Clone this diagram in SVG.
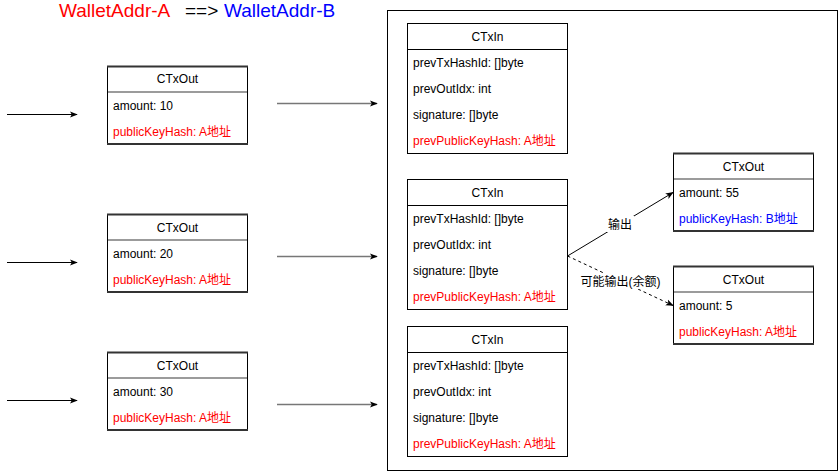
<svg xmlns="http://www.w3.org/2000/svg" width="838" height="471" viewBox="0 0 838 471">
<style>
text{font-family:"Liberation Sans","Noto Sans CJK SC",Arial,sans-serif;font-size:12px;fill:#000}
.h{text-anchor:middle}
.r{fill:#ff0000}
.b{fill:#0000ff}
.out{fill:#fff;stroke:#000;stroke-width:1}
.tb{stroke:#333;stroke-width:2}
.sepo{stroke:#7a7a7a;stroke-width:1.6}
.in{fill:#fff;stroke:#000;stroke-width:1}
.sep{stroke:#000;stroke-width:1}
.c{fill:none;stroke:#000;stroke-width:1}
.g{fill:none;stroke:#777;stroke-width:1.6}
</style>
<defs>
<marker id="a" viewBox="0 0 10 10" refX="9" refY="5" markerWidth="8" markerHeight="8" markerUnits="userSpaceOnUse" orient="auto"><path d="M0,1 L10,5 L0,9 L2.5,5 Z" fill="#000"/></marker>
</defs>
<g id="title">
<text x="59" y="17" style="font-size:19px" class="r">WalletAddr-A</text>
<text x="185" y="17" style="font-size:19px">==&gt;</text>
<text x="224" y="17" style="font-size:19px" class="b">WalletAddr-B</text>
</g>
<g id="container"><rect x="387.5" y="10.5" width="450" height="460" fill="none" stroke="#000"/></g>
<g id="out1"><rect class="out" x="107.5" y="66.5" width="140" height="78"/><line class="tb" x1="107" y1="66.5" x2="248" y2="66.5"/><line class="tb" x1="107" y1="144" x2="248" y2="144"/><line class="sepo" x1="108" y1="92" x2="247" y2="92"/><text class="h" x="177.5" y="83">CTxOut</text><text x="113" y="110">amount: 10</text><text x="113" y="136" class="r">publicKeyHash: A地址</text></g>
<g id="out2"><rect class="out" x="107.5" y="214.5" width="140" height="78"/><line class="tb" x1="107" y1="214.5" x2="248" y2="214.5"/><line class="tb" x1="107" y1="292" x2="248" y2="292"/><line class="sepo" x1="108" y1="240" x2="247" y2="240"/><text class="h" x="177.5" y="232">CTxOut</text><text x="113" y="258">amount: 20</text><text x="113" y="284" class="r">publicKeyHash: A地址</text></g>
<g id="out3"><rect class="out" x="107.5" y="352.5" width="140" height="78"/><line class="tb" x1="107" y1="352.5" x2="248" y2="352.5"/><line class="tb" x1="107" y1="430" x2="248" y2="430"/><line class="sepo" x1="108" y1="378" x2="247" y2="378"/><text class="h" x="177.5" y="370">CTxOut</text><text x="113" y="396">amount: 30</text><text x="113" y="422" class="r">publicKeyHash: A地址</text></g>
<g id="in1"><rect class="in" x="407.5" y="23.5" width="160" height="130"/><line class="sep" x1="407.5" y1="49.5" x2="567.5" y2="49.5"/><text class="h" x="487.5" y="41">CTxIn</text><text x="413" y="67">prevTxHashId: []byte</text><text x="413" y="93">prevOutIdx: int</text><text x="413" y="119">signature: []byte</text><text x="413" y="145" class="r">prevPublicKeyHash: A地址</text></g>
<g id="in2"><rect class="in" x="407.5" y="179.5" width="160" height="130"/><line class="sep" x1="407.5" y1="205.5" x2="567.5" y2="205.5"/><text class="h" x="487.5" y="197">CTxIn</text><text x="413" y="223">prevTxHashId: []byte</text><text x="413" y="249">prevOutIdx: int</text><text x="413" y="275">signature: []byte</text><text x="413" y="301" class="r">prevPublicKeyHash: A地址</text></g>
<g id="in3"><rect class="in" x="407.5" y="326.5" width="160" height="130"/><line class="sep" x1="407.5" y1="352.5" x2="567.5" y2="352.5"/><text class="h" x="487.5" y="344">CTxIn</text><text x="413" y="370">prevTxHashId: []byte</text><text x="413" y="396">prevOutIdx: int</text><text x="413" y="422">signature: []byte</text><text x="413" y="448" class="r">prevPublicKeyHash: A地址</text></g>
<g id="outB"><rect class="out" x="673.5" y="153.5" width="140" height="78"/><line class="tb" x1="673" y1="153.5" x2="814" y2="153.5"/><line class="tb" x1="673" y1="231" x2="814" y2="231"/><line class="sepo" x1="674" y1="179" x2="813" y2="179"/><text class="h" x="743.5" y="171">CTxOut</text><text x="679" y="197">amount: 55</text><text x="679" y="223" class="b">publicKeyHash: B地址</text></g>
<g id="outA"><rect class="out" x="673.5" y="266.5" width="140" height="78"/><line class="tb" x1="673" y1="266.5" x2="814" y2="266.5"/><line class="tb" x1="673" y1="344" x2="814" y2="344"/><line class="sepo" x1="674" y1="292" x2="813" y2="292"/><text class="h" x="743.5" y="284">CTxOut</text><text x="679" y="310">amount: 5</text><text x="679" y="336" class="r">publicKeyHash: A地址</text></g>
<g id="connectors">
<line class="c" x1="7" y1="114.5" x2="77" y2="114.5" marker-end="url(#a)"/>
<line class="c" x1="7" y1="262.5" x2="77" y2="262.5" marker-end="url(#a)"/>
<line class="c" x1="7" y1="400.5" x2="77" y2="400.5" marker-end="url(#a)"/>
<line class="g" x1="277" y1="103.5" x2="377" y2="103.5" marker-end="url(#a)"/>
<line class="g" x1="277" y1="256.5" x2="377" y2="256.5" marker-end="url(#a)"/>
<line class="g" x1="277" y1="404.5" x2="377" y2="404.5" marker-end="url(#a)"/>
<line class="c" x1="567.5" y1="256" x2="673" y2="192.5" marker-end="url(#a)"/>
<line class="c" x1="567.5" y1="256" x2="673" y2="305.5" stroke-dasharray="3 3" marker-end="url(#a)"/>
<rect x="606" y="216" width="28" height="16" fill="#fff"/>
<text class="h" x="620" y="229">输出</text>
<rect x="580" y="273" width="81" height="16" fill="#fff"/>
<text class="h" x="620.5" y="286">可能输出(余额)</text>
</g>
</svg>
